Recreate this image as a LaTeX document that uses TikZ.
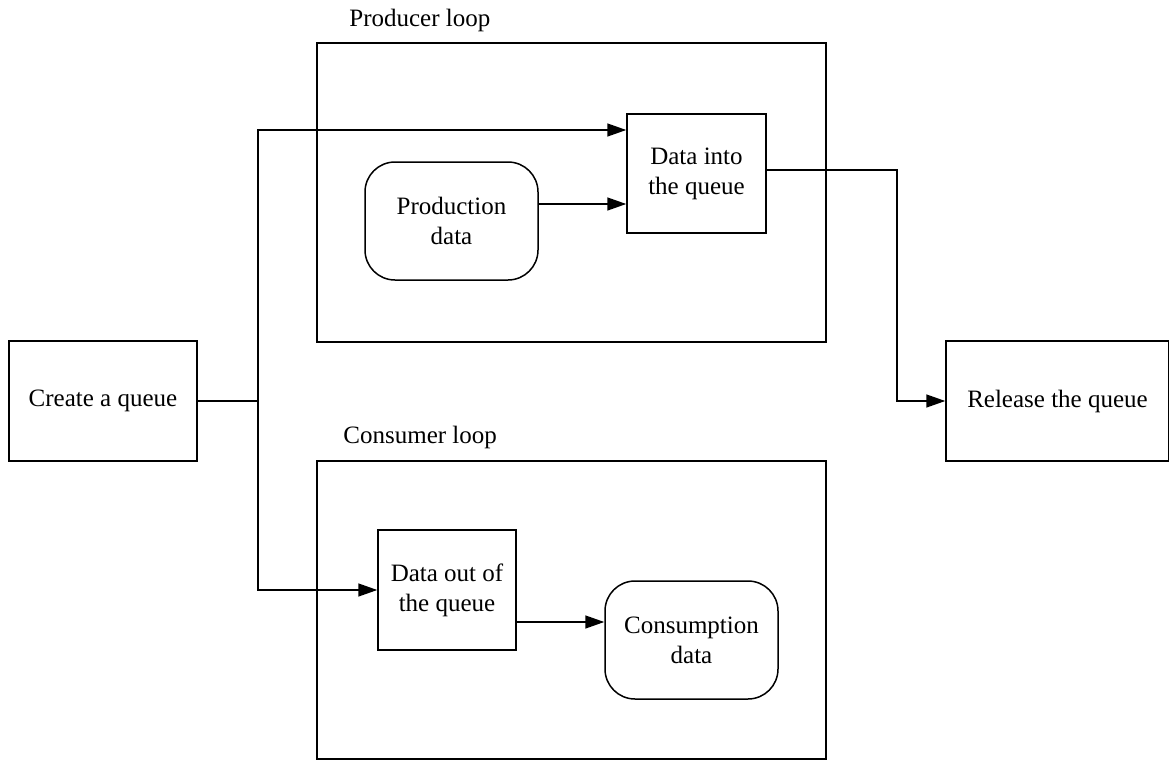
\documentclass[tikz,border=0pt]{standalone}
\usepackage{fontspec}
\setmainfont{Liberation Serif}
\usetikzlibrary{arrows.meta}
\begin{document}
\begin{tikzpicture}[x=0.5pt,y=-0.5pt,
  every node/.style={font=\fontsize{12.5}{15}\selectfont},
  box/.style={draw,line width=0.75pt,inner sep=0pt,align=center},
  rbox/.style={box,rounded corners=15pt},
  loopbox/.style={draw,line width=0.75pt,inner sep=0pt,minimum width=254.5pt},
  lbl/.style={anchor=west,inner sep=0pt},
  conn/.style={line width=0.75pt},
  arr/.style={conn,-{Triangle[length=9.5pt,width=6.5pt]}}]
\useasboundingbox (0,0) rectangle (1169,760);
% loop frames
\node[loopbox,minimum height=149.5pt] (ploop) at (571.5,192.5) {};
\node[loopbox,minimum height=149pt] (cloop) at (571.5,610) {};
\node[lbl] (plbl) at (349,20) {Producer loop};
\node[lbl] (clbl) at (343,437) {Consumer loop};
% nodes
\node[box,minimum width=94pt,minimum height=60pt] (create) at (103,401) {Create a queue};
\node[box,minimum width=111.5pt,minimum height=60pt] (release) at (1057.5,401) {Release the queue};
\node[rbox,minimum width=86.5pt,minimum height=59pt] (prod) at (451.5,221) {Production\\data};
\node[box,minimum width=69.5pt,minimum height=59.5pt] (into) at (696.5,173.5) {Data into\\the queue};
\node[box,minimum width=69pt,minimum height=60pt] (out) at (447,590) {Data out of\\the queue};
\node[rbox,minimum width=86.5pt,minimum height=59pt] (cons) at (691.5,640) {Consumption\\data};
% junction coordinates
\coordinate (j) at (258,401);
\coordinate (jt) at (258,130);
\coordinate (pa) at (0,204);
\coordinate (b1) at (897,170);
\coordinate (ca) at (0,622);
% connectors
\draw[conn] (create.east) -- (j);
\draw[arr] (j) -- (jt) -- (into.west |- jt);
\draw[arr] (j) |- (out.west);
\draw[arr] (prod.east |- pa) -- (into.west |- pa);
\draw[arr] (into.east |- b1) -- (b1) |- (release.west);
\draw[arr] (out.east |- ca) -- (cons.west |- ca);
\end{tikzpicture}
\end{document}
